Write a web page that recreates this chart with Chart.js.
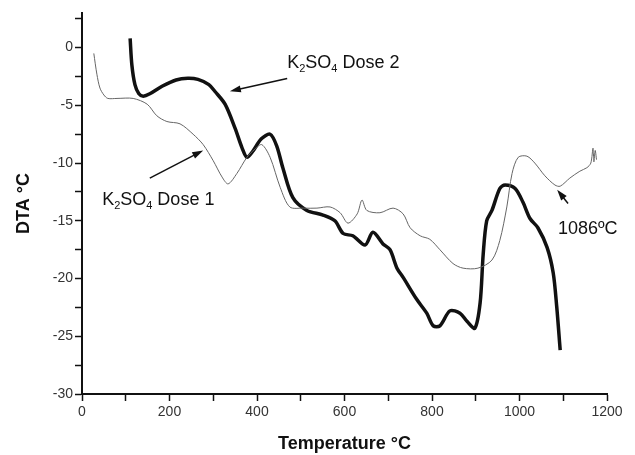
<!DOCTYPE html>
<html>
<head>
<meta charset="utf-8">
<script src="https://cdn.jsdelivr.net/npm/chart.js@4.4.1/dist/chart.umd.min.js"></script>
<style>
  html, body { margin: 0; padding: 0; background: #fff; }
  #box { width: 635px; height: 455px; }
</style>
</head>
<body>
<div id="box"><canvas id="myChart"></canvas></div>
<script>
// K2SO4 dose 1 (thin line)
const dose1Temp = [27, 34, 41, 50, 59, 80, 117, 149, 171, 194, 224, 254, 277, 300, 320, 334, 354, 377, 395, 411, 430, 453, 475, 506, 537, 567, 590, 608, 629, 640, 651, 681, 711, 734, 750, 773, 795, 818, 848, 871, 905, 937, 955, 971, 983, 997, 1017, 1035, 1058, 1081, 1093, 1115, 1138, 1154, 1163, 1168, 1170, 1173, 1176];
const dose1DTA = [-0.5, -2.3, -3.5, -4.1, -4.4, -4.4, -4.4, -4.9, -5.9, -6.4, -6.6, -7.5, -8.4, -9.8, -11.2, -11.8, -10.9, -9.5, -8.8, -8.4, -9.5, -12.1, -13.8, -13.9, -13.9, -13.8, -14.3, -15.2, -14.4, -13.2, -14.1, -14.3, -13.9, -14.4, -15.6, -16.3, -16.6, -17.5, -18.7, -19.1, -19.1, -18.4, -16.7, -13.8, -10.9, -9.5, -9.4, -10.0, -11.1, -11.9, -12.0, -11.3, -10.7, -10.4, -10.0, -8.7, -9.9, -8.9, -9.7];

// K2SO4 dose 2 (thick line)
const dose2Temp = [110, 114, 121, 130, 140, 155, 183, 215, 242, 265, 290, 304, 327, 350, 366, 377, 390, 410, 430, 445, 459, 482, 514, 551, 578, 597, 619, 647, 665, 688, 704, 720, 734, 765, 788, 803, 818, 841, 864, 880, 898, 910, 917, 925, 937, 955, 967, 990, 1008, 1024, 1042, 1063, 1077, 1085, 1093];
const dose2DTA = [0.8, -1.5, -3.2, -4.0, -4.2, -4.0, -3.35, -2.8, -2.65, -2.75, -3.2, -3.8, -4.9, -7.0, -8.7, -9.5, -9.0, -7.9, -7.5, -8.5, -10.4, -13.0, -14.1, -14.5, -15.0, -16.1, -16.3, -17.1, -16.0, -17.0, -17.5, -19.1, -19.9, -21.8, -23.0, -24.1, -24.1, -22.8, -23.0, -23.7, -24.3, -22.1, -17.9, -15.0, -14.1, -12.2, -11.9, -12.2, -13.4, -14.8, -15.6, -17.3, -19.5, -22.4, -26.2];

// annotations, in data units: [temp, dta]
const labelDose2 = { at: [469, -1.8], parts: [['K'], ['2', 1], ['SO'], ['4', 1], [' Dose 2']], tail: [469, -2.67], head: [338, -3.78] };
const labelDose1 = { at: [46, -13.6], parts: [['K'], ['2', 1], ['SO'], ['4', 1], [' Dose 1']], tail: [155, -11.3], head: [277, -8.9] };
const label1086 = { at: [1088, -16.1], parts: [['1086ºC']], tail: [1111, -13.5], head: [1086, -12.3] };

const fonte = 'Liberation Sans, Arial, sans-serif';

function pares(xs, ys) {
    let out = [];
    for (let i = 0; i < xs.length; i++) {
        out.push({ x: xs[i], y: ys[i] });
    }
    return out;
}

function desenharSeta(ctx, x1, y1, x2, y2) {
    let ang = Math.atan2(y2 - y1, x2 - x1);
    ctx.beginPath();
    ctx.moveTo(x1, y1);
    ctx.lineTo(x2 - 8 * Math.cos(ang), y2 - 8 * Math.sin(ang));
    ctx.stroke();
    ctx.beginPath();
    ctx.moveTo(x2, y2);
    ctx.lineTo(x2 - 11 * Math.cos(ang) + 3.5 * Math.sin(ang), y2 - 11 * Math.sin(ang) - 3.5 * Math.cos(ang));
    ctx.lineTo(x2 - 11 * Math.cos(ang) - 3.5 * Math.sin(ang), y2 - 11 * Math.sin(ang) + 3.5 * Math.cos(ang));
    ctx.closePath();
    ctx.fill();
}

const anotacoes = {
    id: 'anotacoes',
    afterDatasetsDraw(chart) {
        let ctx = chart.ctx;
        let sx = chart.scales.x;
        let sy = chart.scales.y;
        ctx.save();
        ctx.fillStyle = '#111';
        ctx.strokeStyle = '#111';
        ctx.lineWidth = 1.5;
        ctx.textBaseline = 'alphabetic';
        [labelDose2, labelDose1, label1086].forEach(function (a) {
            let x = sx.getPixelForValue(a.at[0]);
            let y = sy.getPixelForValue(a.at[1]);
            a.parts.forEach(function (p) {
                if (p[1]) {
                    ctx.font = '11px ' + fonte;
                    ctx.fillText(p[0], x, y + 4);
                } else {
                    ctx.font = '18px ' + fonte;
                    ctx.fillText(p[0], x, y);
                }
                x += ctx.measureText(p[0]).width;
            });
            desenharSeta(ctx, sx.getPixelForValue(a.tail[0]), sy.getPixelForValue(a.tail[1]),
                sx.getPixelForValue(a.head[0]), sy.getPixelForValue(a.head[1]));
        });
        ctx.restore();
    }
};

let dados = {
    datasets: [{
        label: 'K2SO4 Dose 1',
        data: pares(dose1Temp, dose1DTA),
        borderColor: '#666',
        borderWidth: 1,
        pointRadius: 0,
        tension: 0.3
    }, {
        label: 'K2SO4 Dose 2',
        data: pares(dose2Temp, dose2DTA),
        borderColor: '#111',
        borderWidth: 3.5,
        pointRadius: 0,
        tension: 0.3
    }]
};

let options = {
    responsive: false,
    animation: false,
    layout: { padding: { top: 13, right: 28, left: 0, bottom: 0 } },
    plugins: { legend: { display: false }, tooltip: { enabled: false } },
    scales: {
        x: {
            type: 'linear',
            min: 0,
            max: 1200,
            afterFit: function (s) { s.height = 61; },
            border: { color: '#111', width: 2 },
            grid: { drawOnChartArea: false, drawTicks: true, tickLength: 7, color: '#111', tickWidth: 1.5 },
            ticks: {
                stepSize: 100,
                maxRotation: 0,
                autoSkip: false,
                padding: 3,
                color: '#333',
                font: { family: fonte, size: 14 },
                callback: function (v) { return v % 200 === 0 ? v : ''; }
            },
            title: {
                display: true,
                text: 'Temperature °C',
                color: '#111',
                font: { family: fonte, size: 18, weight: 'bold' },
                padding: { top: 0, bottom: 0 }
            }
        },
        y: {
            type: 'linear',
            min: -30,
            max: 3,
            afterFit: function (s) { s.width = 82; },
            border: { color: '#111', width: 2 },
            grid: { drawOnChartArea: false, drawTicks: true, tickLength: 7, color: '#111', tickWidth: 1.5 },
            ticks: {
                stepSize: 2.5,
                includeBounds: false,
                autoSkip: false,
                padding: 2,
                color: '#333',
                font: { family: fonte, size: 14 },
                callback: function (v) { return v % 5 === 0 ? v : ''; }
            },
            title: {
                display: true,
                text: 'DTA °C',
                color: '#111',
                font: { family: fonte, size: 18, weight: 'bold' },
                padding: { top: 13, bottom: 0 }
            }
        }
    }
};

let canvas = document.getElementById('myChart');
canvas.width = 635;
canvas.height = 455;
let myChart = new Chart(canvas, { type: 'line', data: dados, options: options, plugins: [anotacoes] });
</script>
</body>
</html>
